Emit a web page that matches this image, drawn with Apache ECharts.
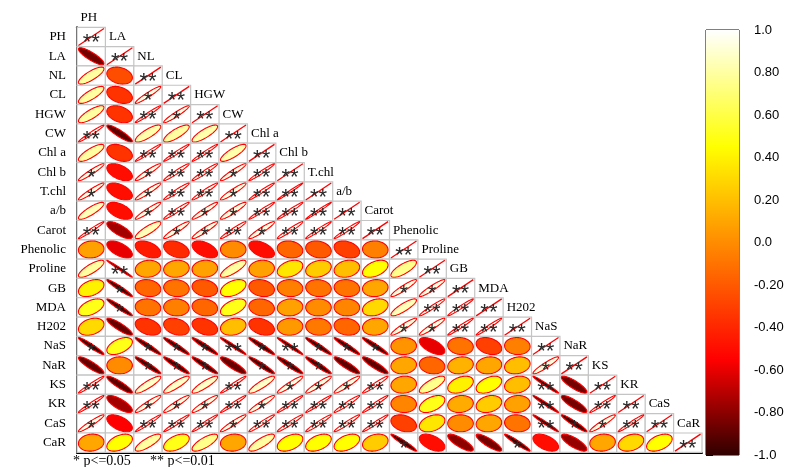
<!DOCTYPE html>
<html>
<head>
<meta charset="utf-8">
<script src="https://cdn.jsdelivr.net/npm/echarts@6/dist/echarts.min.js"></script>
<style>
html, body { margin: 0; padding: 0; background: #ffffff; }
#chart { width: 789px; height: 467px; }
</style>
</head>
<body>
<div id="chart"></div>
<script>
// Variable names, in matrix order
const variables = ["PH", "LA", "NL", "CL", "HGW", "CW", "Chl a", "Chl b", "T.chl", "a/b", "Carot",
  "Phenolic", "Proline", "GB", "MDA", "H202", "NaS", "NaR", "KS", "KR", "CaS", "CaR"];

// Lower triangle of the correlation matrix (row i holds columns 0..i)
const corrRows = [
  [1],
  [-0.85, 1],
  [0.8, -0.25, 1],
  [0.8, -0.35, 0.95, 1],
  [0.8, -0.35, 0.98, 0.95, 1],
  [0.98, -0.9, 0.82, 0.8, 0.82, 1],
  [0.8, -0.35, 0.98, 0.98, 0.98, 0.82, 1],
  [0.95, -0.5, 0.95, 0.97, 0.97, 0.95, 0.98, 1],
  [0.95, -0.5, 0.95, 0.97, 0.97, 0.94, 0.98, 0.99, 1],
  [0.85, -0.5, 0.95, 0.97, 0.95, 0.93, 0.98, 0.98, 0.99, 1],
  [0.98, -0.75, 0.85, 0.94, 0.94, 0.97, 0.94, 0.97, 0.98, 0.98, 1],
  [0.08, -0.6, -0.45, -0.38, -0.5, 0.0, -0.5, -0.15, -0.2, -0.3, -0.05, 1],
  [0.8, -0.99, 0.1, 0.1, 0.08, 0.8, 0.08, 0.35, 0.25, 0.2, 0.45, 0.75, 1],
  [0.4, -0.96, -0.15, -0.1, -0.2, 0.45, -0.2, -0.05, -0.1, -0.1, 0.1, 0.93, 0.94, 1],
  [0.5, -0.96, -0.1, -0.05, -0.15, 0.5, -0.15, 0.08, 0.0, -0.03, 0.3, 0.85, 0.97, 0.98, 1],
  [0.3, -0.88, -0.35, -0.3, -0.35, 0.2, -0.35, 0.05, -0.08, -0.15, 0.1, 0.93, 0.94, 0.98, 0.98, 1],
  [-0.96, 0.5, -0.96, -0.96, -0.96, -0.98, -0.96, -0.98, -0.96, -0.96, -0.96, 0.03, -0.6, -0.1, -0.3, -0.05, 1],
  [-0.88, 0.0, -0.95, -0.95, -0.95, -0.88, -0.95, -0.95, -0.95, -0.9, -0.9, 0.1, -0.15, 0.15, 0.1, 0.2, 0.93, 1],
  [0.98, -0.9, 0.88, 0.88, 0.88, 0.98, 0.88, 0.94, 0.94, 0.94, 0.97, 0.1, 0.75, 0.4, 0.45, 0.2, -0.98, -0.85, 1],
  [0.98, -0.75, 0.94, 0.94, 0.94, 0.98, 0.94, 0.98, 0.98, 0.97, 0.98, -0.03, 0.5, 0.12, 0.25, 0.08, -0.98, -0.85, 0.98, 1],
  [0.95, -0.55, 0.98, 0.98, 0.98, 0.95, 0.97, 0.97, 0.97, 0.97, 0.98, -0.3, 0.35, 0.0, 0.1, -0.1, -0.98, -0.95, 0.94, 0.98, 1],
  [0.1, 0.45, 0.8, 0.5, 0.75, 0.1, 0.8, 0.45, 0.45, 0.45, 0.25, -0.96, -0.5, -0.8, -0.85, -0.96, -0.5, -0.78, 0.1, 0.3, 0.45, 1]
];

// Significance level per cell: 0 = none, 1 = p<=0.05, 2 = p<=0.01
const sigRows = [
  [2],
  [0, 2],
  [0, 0, 2],
  [0, 0, 1, 2],
  [0, 0, 2, 1, 2],
  [2, 0, 0, 0, 0, 2],
  [0, 0, 2, 2, 2, 0, 2],
  [1, 0, 1, 2, 2, 1, 2, 2],
  [1, 0, 1, 2, 2, 1, 2, 2, 2],
  [0, 0, 1, 2, 1, 1, 2, 2, 2, 2],
  [2, 0, 0, 1, 1, 2, 1, 2, 2, 2, 2],
  [0, 0, 0, 0, 0, 0, 0, 0, 0, 0, 0, 2],
  [0, 2, 0, 0, 0, 0, 0, 0, 0, 0, 0, 0, 2],
  [0, 1, 0, 0, 0, 0, 0, 0, 0, 0, 0, 1, 1, 2],
  [0, 1, 0, 0, 0, 0, 0, 0, 0, 0, 0, 0, 2, 2, 2],
  [0, 0, 0, 0, 0, 0, 0, 0, 0, 0, 0, 1, 1, 2, 2, 2],
  [1, 0, 1, 1, 1, 2, 1, 2, 1, 1, 1, 0, 0, 0, 0, 0, 2],
  [0, 0, 1, 1, 1, 0, 1, 1, 1, 0, 0, 0, 0, 0, 0, 0, 1, 2],
  [2, 0, 0, 0, 0, 2, 0, 1, 1, 1, 2, 0, 0, 0, 0, 0, 2, 0, 2],
  [2, 0, 1, 1, 1, 2, 1, 2, 2, 2, 2, 0, 0, 0, 0, 0, 2, 0, 2, 2],
  [1, 0, 2, 2, 2, 1, 2, 2, 2, 2, 2, 0, 0, 0, 0, 0, 2, 1, 1, 2, 2],
  [0, 0, 0, 0, 0, 0, 0, 0, 0, 0, 0, 1, 0, 0, 0, 1, 0, 0, 0, 0, 0, 2]
];

// Colour-bar tick values and their printed labels
const barTickValues = [-1, -0.8, -0.6, -0.4, -0.2, 0, 0.2, 0.4, 0.6, 0.8, 1];
const barTickLabels = ["-1.0", "-0.80", "-0.60", "-0.40", "-0.20", "0.0", "0.20", "0.40", "0.60", "0.80", "1.0"];

// Significance legend
const sigLegend = ["* p<=0.05", "** p<=0.01"];

// Colour ramp: dark red -> red -> yellow -> white
const ramp = [
  [-1, [48, 0, 0]],
  [-0.55, [255, 0, 0]],
  [0.45, [255, 255, 0]],
  [1, [255, 255, 255]]
];
function rampColor(v) {
  v = Math.max(-1, Math.min(1, v));
  for (let k = 0; k < ramp.length - 1; k++) {
    const [v0, c0] = ramp[k], [v1, c1] = ramp[k + 1];
    if (v <= v1) {
      const t = (v - v0) / (v1 - v0);
      const c = c0.map((x, n) => Math.round(x + (c1[n] - x) * t));
      return 'rgb(' + c.join(',') + ')';
    }
  }
  return 'rgb(255,255,255)';
}

const cellData = [];
corrRows.forEach((row, i) => {
  row.forEach((r, j) => cellData.push([j, i, r, sigRows[i][j]]));
});

const ELL_SX = 0.9, ELL_SY = 0.88;
const SERIF = "'Liberation Serif', 'Times New Roman', serif";
const SANS = "'Liberation Sans', Arial, sans-serif";

function renderCell(params, api) {
  const j = api.value(0), i = api.value(1), r = api.value(2), s = api.value(3);
  const c = api.coord([j, i]);
  const sz = api.size([1, 1]);
  const w = sz[0], h = sz[1];
  const children = [{
    type: 'rect',
    shape: { x: c[0] - w / 2, y: c[1] - h / 2, width: w, height: h },
    style: { fill: '#ffffff', stroke: '#c4c4c4', lineWidth: 1.2 }
  }];
  const a = Math.acos(Math.max(-1, Math.min(1, r)));
  if (r >= 0.999) {
    children.push({
      type: 'line',
      shape: { x1: c[0] - w / 2 * ELL_SX, y1: c[1] + h / 2 * ELL_SY, x2: c[0] + w / 2 * ELL_SX, y2: c[1] - h / 2 * ELL_SY },
      style: { stroke: '#ff0000', lineWidth: 1.3 }
    });
  } else {
    const pts = [];
    for (let k = 0; k < 96; k++) {
      const t = k / 96 * Math.PI * 2;
      pts.push([c[0] + Math.cos(t + a / 2) / 2 * w * ELL_SX, c[1] - Math.cos(t - a / 2) / 2 * h * ELL_SY]);
    }
    children.push({
      type: 'polygon',
      shape: { points: pts },
      style: { fill: rampColor(r), stroke: '#ff0000', lineWidth: 1.1 }
    });
  }
  if (s > 0) {
    children.push({
      type: 'text',
      x: c[0], y: c[1] + 6,
      style: { text: '*'.repeat(s), fill: '#2a2a2a', font: '22px ' + SANS, align: 'center', verticalAlign: 'middle' }
    });
  }
  return { type: 'group', children: children };
}

function renderColLabel(params, api) {
  const j = api.value(0);
  const c = api.coord([j, j]);
  const sz = api.size([1, 1]);
  return {
    type: 'text',
    x: c[0] - sz[0] / 2 + 3.5,
    y: c[1] - sz[1],
    style: { text: variables[j], fill: '#000000', font: '13px ' + SERIF, align: 'left', verticalAlign: 'middle' }
  };
}

function renderBar(params, api) {
  const top = api.coord([0, 1]);
  const bottom = api.coord([1, -1]);
  const stops = ramp.slice().reverse().map(([v, c]) => ({ offset: (1 - v) / 2, color: 'rgb(' + c.join(',') + ')' }));
  return {
    type: 'rect',
    shape: { x: top[0], y: top[1], width: bottom[0] - top[0], height: bottom[1] - top[1] },
    style: { fill: new echarts.graphic.LinearGradient(0, 0, 0, 1, stops) }
  };
}

const chart = echarts.init(document.getElementById('chart'), null, { renderer: 'canvas' });
chart.setOption({
  animation: false,
  backgroundColor: '#ffffff',
  grid: [
    { left: 77, top: 27.3, width: 625, height: 425 },
    { left: 706, top: 30, width: 33, height: 425, show: true, borderColor: '#000000', borderWidth: 1, backgroundColor: 'transparent' }
  ],
  xAxis: [
    {
      gridIndex: 0, type: 'category', data: variables,
      axisLine: { show: true, onZero: false, lineStyle: { color: '#000000', width: 2 } },
      axisTick: { show: false }, axisLabel: { show: false }, splitLine: { show: false }
    },
    { gridIndex: 1, type: 'value', min: 0, max: 1, show: false }
  ],
  yAxis: [
    {
      gridIndex: 0, type: 'category', data: variables, inverse: true,
      axisLine: { show: true, onZero: false, lineStyle: { color: '#000000', width: 2 } },
      axisTick: { show: false },
      axisLabel: { margin: 11, color: '#000000', fontFamily: SERIF, fontSize: 13 },
      splitLine: { show: false }
    },
    {
      gridIndex: 1, type: 'value', min: -1, max: 1, interval: 0.2, position: 'right',
      axisLine: { show: false },
      axisTick: { show: true, length: 7, lineStyle: { color: '#000000', width: 1 } },
      axisLabel: {
        margin: 15, color: '#000000', fontFamily: SANS, fontSize: 13,
        formatter: v => {
          const k = barTickValues.findIndex(t => Math.abs(t - v) < 1e-6);
          return k >= 0 ? barTickLabels[k] : '';
        }
      },
      splitLine: { show: false }
    }
  ],
  series: [
    {
      type: 'custom', xAxisIndex: 0, yAxisIndex: 0,
      data: cellData, renderItem: renderCell, clip: false, silent: true
    },
    {
      type: 'custom', xAxisIndex: 0, yAxisIndex: 0,
      data: variables.map((_, j) => [j]), renderItem: renderColLabel, clip: false, silent: true
    },
    {
      type: 'custom', xAxisIndex: 1, yAxisIndex: 1,
      data: [[0]], renderItem: renderBar, clip: false, silent: true, z: 1
    }
  ],
  graphic: [
    { type: 'text', left: 73, top: 454, style: { text: sigLegend[0], fill: '#000000', font: '14px ' + SERIF } },
    { type: 'text', left: 150, top: 454, style: { text: sigLegend[1], fill: '#000000', font: '14px ' + SERIF } }
  ]
});
</script>
</body>
</html>
